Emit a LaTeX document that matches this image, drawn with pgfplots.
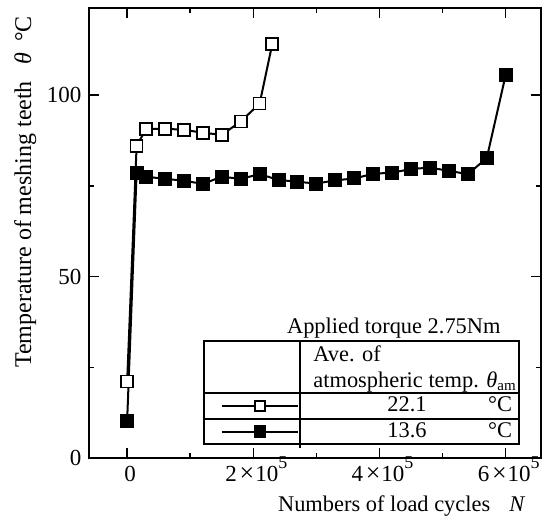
\documentclass[border=0pt]{standalone}
\usepackage{pgfplots}
\pgfplotsset{compat=1.18}
\usepackage{fontspec}
\setmainfont{Liberation Serif}
\newcommand{\sci}[1]{#1\hspace{0.12em}{\fontsize{13}{13}\selectfont ×}\hspace{0.04em}10\raisebox{0.58em}{\fontsize{9}{9}\selectfont 5}}
\begin{document}
\fontsize{11.2}{13.4}\selectfont
\begin{tikzpicture}
  \begin{axis}[
      name=ax,
      scale only axis,
      width=225.7pt,
      height=225.3pt,
      xmin=-60000, xmax=655500,
      ymin=0, ymax=124,
      axis line style={line width=1pt},
      xtick={0,200000,400000,600000},
      xticklabels={0, \sci{2}, \sci{4}, \sci{6}},
      minor xtick={100000,300000,500000},
      ytick={0,50,100},
      minor ytick={25,75},
      scaled x ticks=false,
      tick align=inside,
      major tick length=5pt,
      minor tick length=2.5pt,
      tick style={line width=0.8pt, black},
      /pgf/number format/assume math mode=true,
      tick label style={font=\fontsize{11.5}{13.6}\selectfont},
      xticklabel style={anchor=base, yshift=-11.7pt, xshift=1.5pt},
      clip=false,
      legend cell align=left,
      legend style={
          at={(axis description cs:0.2911,0.1443)},
          anchor=north west,
          draw=none, fill=none,
          inner sep=0pt, outer sep=0pt,
          row sep=0pt, column sep=1.5pt,
          nodes={inner sep=0pt, minimum height=12.75pt,
                 font=\fontsize{11.2}{13.4}\selectfont},
      },
      legend image code/.code={
          \draw[mark repeat=2, mark phase=2, #1, mark size=2.6pt]
              plot coordinates {(0pt,0pt) (19.15pt,0pt) (38.15pt,0pt)};
      },
      every axis plot/.append style={black, line width=1pt},
  ]

  % open squares, ave. atmospheric 22.1 C
  \addplot[mark=square*, mark size=3pt, mark options={fill=white, line width=0.8pt}]
      coordinates {
      (0,21.1) (15000,86.0) (30000,90.6) (60000,90.7) (90000,90.4)
      (120000,89.6) (150000,89.0) (180000,92.7) (210000,97.6) (230000,114.0)
      };
  \addlegendentry{\rlap{\hspace{52pt}\makebox[0pt]{22.1}}\rlap{\hspace{98.5pt}\makebox[0pt]{°C}}}

  % filled squares, ave. atmospheric 13.6 C
  \addplot[mark=square*, mark size=3pt, mark options={fill=black}]
      coordinates {
      (0,10.4) (15000,78.6) (30000,77.5) (60000,76.9) (90000,76.4)
      (120000,75.5) (150000,77.5) (180000,76.9) (210000,78.2) (240000,76.6)
      (270000,76.1) (300000,75.6) (330000,76.5) (360000,77.0) (390000,78.3)
      (420000,78.6) (450000,79.6) (480000,80.0) (510000,79.1) (540000,78.2)
      (570000,82.6) (600000,105.5)
      };
  \addlegendentry{\rlap{\hspace{52pt}\makebox[0pt]{13.6}}\rlap{\hspace{98.5pt}\makebox[0pt]{°C}}}

  % legend table frame
  \draw[line width=1pt] (axis description cs:0.254,0.0311) rectangle (axis description cs:0.9526,0.2603);
  \draw[line width=1pt] (axis description cs:0.254,0.1443) -- (axis description cs:0.9526,0.1443);
  \draw[line width=1pt] (axis description cs:0.254,0.0877) -- (axis description cs:0.9526,0.0877);
  \draw[line width=1pt] (axis description cs:0.4668,0.2603) -- (axis description cs:0.4668,0.0229);

  \node[anchor=base west, inner sep=0pt] at (axis description cs:0.4373,0.2759) {Applied torque 2.75Nm};
  \node[anchor=base west, inner sep=0pt] at (axis description cs:0.4956,0.2144) {Ave. of};
  \node[anchor=base west, inner sep=0pt] at (axis description cs:0.4956,0.1576)
      {atmospheric temp. \textit{θ}\raisebox{-0.35ex}{\fontsize{7.5}{8}\selectfont am}};

  % axis labels
  \node[rotate=90, font=\fontsize{12}{14}\selectfont] at (axis description cs:-0.142,0.591)
      {Temperature of meshing teeth\hspace{0.7em}\textit{θ}\hspace{0.45em}°C};
  \node[anchor=base] at (axis description cs:0.692,-0.1185)
      {Numbers of load cycles\hspace{0.85em}\textit{N}};

  \end{axis}
  \pgfresetboundingbox
  \path[use as bounding box] ([shift={(-44.65pt,-36.35pt)}]ax.south west)
      rectangle ([shift={(2.65pt,3.85pt)}]ax.north east);
\end{tikzpicture}
\end{document}
